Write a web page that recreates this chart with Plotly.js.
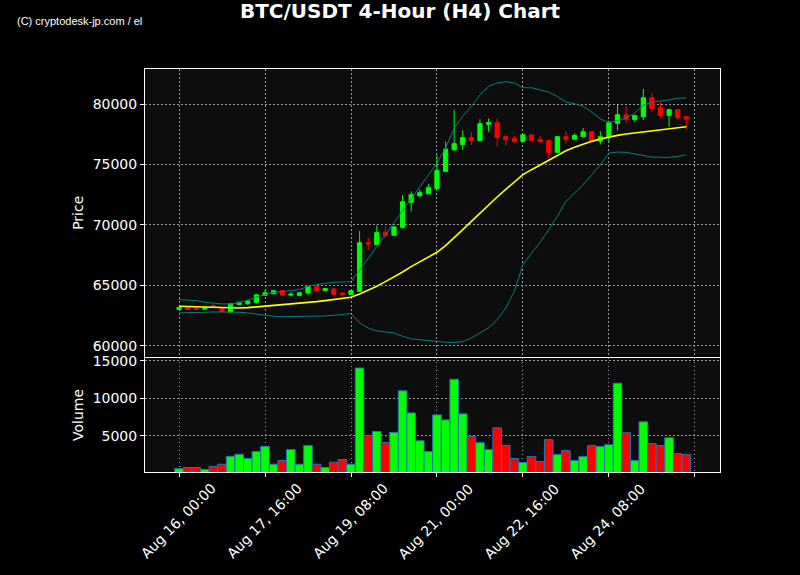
<!DOCTYPE html>
<html>
<head>
<meta charset="utf-8">
<script src="https://cdn.plot.ly/plotly-3.0.1.min.js"></script>
<style>html,body{margin:0;padding:0;background:#000;}#chart{width:800px;height:575px;}</style>
</head>
<body>
<div id="chart"></div>
<script>
const times = [
'2024-08-16 00:00','2024-08-16 04:00','2024-08-16 08:00','2024-08-16 12:00','2024-08-16 16:00','2024-08-16 20:00',
'2024-08-17 00:00','2024-08-17 04:00','2024-08-17 08:00','2024-08-17 12:00','2024-08-17 16:00','2024-08-17 20:00',
'2024-08-18 00:00','2024-08-18 04:00','2024-08-18 08:00','2024-08-18 12:00','2024-08-18 16:00','2024-08-18 20:00',
'2024-08-19 00:00','2024-08-19 04:00','2024-08-19 08:00','2024-08-19 12:00','2024-08-19 16:00','2024-08-19 20:00',
'2024-08-20 00:00','2024-08-20 04:00','2024-08-20 08:00','2024-08-20 12:00','2024-08-20 16:00','2024-08-20 20:00',
'2024-08-21 00:00','2024-08-21 04:00','2024-08-21 08:00','2024-08-21 12:00','2024-08-21 16:00','2024-08-21 20:00',
'2024-08-22 00:00','2024-08-22 04:00','2024-08-22 08:00','2024-08-22 12:00','2024-08-22 16:00','2024-08-22 20:00',
'2024-08-23 00:00','2024-08-23 04:00','2024-08-23 08:00','2024-08-23 12:00','2024-08-23 16:00','2024-08-23 20:00',
'2024-08-24 00:00','2024-08-24 04:00','2024-08-24 08:00','2024-08-24 12:00','2024-08-24 16:00','2024-08-24 20:00',
'2024-08-25 00:00','2024-08-25 04:00','2024-08-25 08:00','2024-08-25 12:00','2024-08-25 16:00','2024-08-25 20:00'
];

const openP = [63000,63170,63100,63030,63320,63100,62790,63420,63480,63600,
64170,64300,64560,64190,64170,64370,64890,64560,64700,64340,
64250,64500,68530,68360,69390,69140,69800,71870,72420,72580,
73000,74430,76220,76640,77220,76970,78320,78460,77300,77130,
76910,77440,77050,76970,76000,77300,77100,77300,77710,76940,
77300,78400,79090,78730,78950,80520,79700,79060,79530,78950];
const highP = [63230,63200,63130,63160,63420,63130,63540,63650,63810,64240,
64600,64620,64580,64420,64420,64950,64920,64790,64720,64440,
64600,69500,68970,69960,69880,69900,72470,72770,72920,73380,
75750,76910,79530,77830,77660,78750,78810,78810,77440,77380,
77520,77480,77380,77050,77350,77770,77550,78020,77760,77740,
78620,79990,79800,79120,81250,80910,80190,79600,79580,79030];
const lowP = [62950,62990,62960,63000,63220,62720,62700,63380,63380,63500,
64130,64270,64100,64100,64080,64200,64530,64500,64240,64130,
64220,64450,67900,68320,68910,69100,69700,71120,72250,72530,
72900,74380,76140,76200,76610,76900,77710,76500,76530,76800,
76870,76950,76800,75530,75950,76740,77050,77250,76930,76640,
76850,77810,78460,78510,78680,79330,78840,78100,78650,77870];
const closeP = [63170,63020,63030,63130,63260,62830,63470,63590,63700,64210,
64380,64560,64200,64260,64380,64890,64560,64730,64260,64240,
64560,68530,68420,69360,69140,69830,71920,72500,72670,73080,
74490,76280,76720,77220,76970,78370,78480,77240,77050,76910,
77460,77000,76910,76000,77300,77080,77410,77710,76970,77300,
78460,79120,78730,79040,80520,79640,79060,79530,78870,78760];

const volume = [600,750,750,490,890,1190,2250,2520,1950,2880,
3580,1190,1680,3140,1190,3670,1190,750,1460,1810,
1190,14060,5040,5570,4110,5440,11010,8050,4330,2880,
7780,7120,12560,7920,4910,4070,3140,6060,3710,1950,
1420,2210,1550,4470,2480,3010,1680,2210,3670,3540,
3800,12030,5400,1680,6860,3940,3670,4730,2610,2480];

const bbMid = [63265,63237,63210,63182,63155,63127,63127,63127,63155,63210,
63265,63320,63375,63430,63486,63568,63651,63734,63816,63927,
64009,64285,64588,64919,65305,65691,66105,66546,66960,67346,
67732,68283,68917,69606,70295,70985,71646,72308,72942,73576,
74155,74569,74954,75341,75727,76140,76416,76692,76912,77105,
77271,77408,77519,77601,77739,77822,77877,77932,78015,78125];
const bbUpper = [63816,63789,63734,63596,63513,63458,63458,63568,63761,64037,
64230,64423,64478,64533,64643,64919,65057,65167,65250,65278,
65305,66243,67235,68200,69193,70185,71178,72143,73135,74128,
75120,76361,78015,78980,79807,80772,81461,81737,81847,81737,
81351,81351,81186,80993,80634,80165,80028,79807,79338,78759,
78484,78622,78842,79256,79890,80165,80248,80386,80469,80524];
const bbLower = [62714,62714,62714,62769,62797,62797,62797,62769,62714,62603,
62521,62438,62410,62410,62410,62410,62438,62465,62521,62576,
62659,61886,61473,61225,61115,61059,60784,60563,60508,60425,
60343,60287,60260,60343,60646,61059,61473,62162,63127,64506,
66711,67676,68558,69606,70709,71950,72639,73328,74155,74982,
75947,76030,76002,75892,75727,75617,75589,75589,75672,75810];

const tickVals = ['2024-08-16 00:00','2024-08-17 16:00','2024-08-19 08:00','2024-08-21 00:00','2024-08-22 16:00','2024-08-24 08:00','2024-08-26 00:00'];
const tickText = ['Aug 16, 00:00','Aug 17, 16:00','Aug 19, 08:00','Aug 21, 00:00','Aug 22, 16:00','Aug 24, 08:00',''];
const priceTicks = [60000,65000,70000,75000,80000];
const volumeTicks = [5000,10000,15000];

const GREEN = '#00ff00', RED = '#ff0000';
const volColors = closeP.map((c, i) => c >= openP[i] ? GREEN : RED);

const traces = [
  {type:'scatter', mode:'lines', x: times, y: bbUpper, xaxis:'x', yaxis:'y',
   line:{color:'#008080', width:1}, hoverinfo:'skip', showlegend:false},
  {type:'scatter', mode:'lines', x: times, y: bbLower, xaxis:'x', yaxis:'y',
   line:{color:'#008080', width:1}, hoverinfo:'skip', showlegend:false},
  {type:'scatter', mode:'lines', x: times, y: bbMid, xaxis:'x', yaxis:'y',
   line:{color:'#ffff00', width:1.6}, hoverinfo:'skip', showlegend:false},
  {type:'candlestick', x: times, open: openP, high: highP, low: lowP, close: closeP,
   xaxis:'x', yaxis:'y', whiskerwidth:0,
   increasing:{line:{color:GREEN, width:1}, fillcolor:GREEN},
   decreasing:{line:{color:RED, width:1}, fillcolor:RED},
   showlegend:false, hoverinfo:'skip'},
  {type:'bar', x: times, y: volume, xaxis:'x2', yaxis:'y2',
   marker:{color: volColors, line:{color:'#1f77b4', width:1}},
   showlegend:false, hoverinfo:'skip'}
];

const gridCol = '#9a9a9a';
const gridDash = '1.5px,2.5px';
const baseFont = {family:'DejaVu Sans, sans-serif', size:14, color:'#ffffff'};
const xRange = ['2024-08-15 08:10','2024-08-26 11:40'];

const xLabelAnns = tickVals.map((t, i) => ({
  text: tickText[i], xref:'x2', yref:'paper', x: t, y: 0,
  xanchor:'center', yanchor:'middle', xshift:-1, yshift:-49,
  textangle:-45, showarrow:false, font: baseFont
})).filter(a => a.text !== '');

const layout = {
  width:800, height:575, autosize:false,
  paper_bgcolor:'#000000', plot_bgcolor:'#0d0d0d',
  margin:{l:145, r:80, t:69, b:103, pad:0},
  font: baseFont,
  showlegend:false,
  bargap:0,
  title:{text:'BTC/USDT 4-Hour (H4) Chart', x:0.5, xanchor:'center', y:0.981, yanchor:'middle',
         yref:'container', xref:'container',
         font:{family:'DejaVu Sans, sans-serif', size:20, color:'#ffffff', weight:'bold'}},
  xaxis:{domain:[0,1], anchor:'y', type:'date', range:xRange,
         rangeslider:{visible:false},
         tickvals: tickVals, ticks:'', showticklabels:false,
         showgrid:true, gridcolor:gridCol, griddash:gridDash, gridwidth:1,
         showline:true, mirror:true, linecolor:'#ffffff', linewidth:1, zeroline:false},
  yaxis:{domain:[0.2866,1], anchor:'x', range:[59110,82900],
         tickvals: priceTicks, tickformat:'d', ticks:'outside', ticklen:4, tickcolor:'#ffffff',
         showgrid:true, gridcolor:gridCol, griddash:gridDash, gridwidth:1,
         showline:true, mirror:true, linecolor:'#ffffff', linewidth:1, zeroline:false,
         title:{text:'Price', font:baseFont, standoff:5}},
  xaxis2:{domain:[0,1], anchor:'y2', type:'date', range:xRange, matches:'x',
         tickvals: tickVals, showticklabels:false,
         ticks:'outside', ticklen:4, tickcolor:'#ffffff',
         showgrid:true, gridcolor:gridCol, griddash:gridDash, gridwidth:1,
         showline:true, mirror:true, linecolor:'#ffffff', linewidth:1, zeroline:false},
  yaxis2:{domain:[0,0.2829], anchor:'x2', range:[150,15400],
         tickvals: volumeTicks, tickformat:'d', ticks:'outside', ticklen:4, tickcolor:'#ffffff',
         showgrid:true, gridcolor:gridCol, griddash:gridDash, gridwidth:1,
         showline:true, mirror:true, linecolor:'#ffffff', linewidth:1, zeroline:false,
         title:{text:'Volume', font:baseFont, standoff:5}},
  annotations:[
    {text:'(C) cryptodesk-jp.com / el', xref:'paper', yref:'paper',
     x:(15-145)/575, y:1+(69-21)/403, xanchor:'left', yanchor:'middle', showarrow:false,
     font:{family:'Liberation Sans Narrow, Liberation Sans, Arial, sans-serif', size:11, color:'#ffffff'}}
  ].concat(xLabelAnns)
};

Plotly.newPlot('chart', traces, layout, {staticPlot:true, displayModeBar:false});
</script>
</body>
</html>
